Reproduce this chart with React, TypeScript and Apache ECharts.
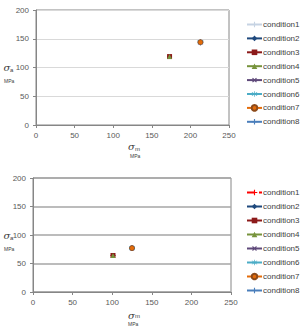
import React, { useEffect, useRef } from "react";
import * as echarts from "echarts";

const conditions = ["condition1", "condition2", "condition3", "condition4", "condition5", "condition6", "condition7", "condition8"];
const topX = [173, 173, 173, 173, 213, 213, 213, 213];
const topY = [119, 119, 119, 119, 144, 144, 144, 144];
const bottomX = [101, 101, 101, 101, 125, 125, 125, 125];
const bottomY = [64, 64, 64, 64, 77, 77, 77, 77];
const xTicks = [0, 50, 100, 150, 200, 250];
const yTicks = [0, 50, 100, 150, 200];

const PLUS = "path://M4,0H6V4H10V6H6V10H4V6H0V4H4Z";
const ASTER = "path://M4.4,0H5.6V10H4.4Z M0.4,2.5L1.0,1.5L9.6,7.5L9.0,8.5Z M9.6,2.5L9.0,1.5L0.4,7.5L1.0,8.5Z";
const symbols = [PLUS, "diamond", "rect", "triangle", PLUS, ASTER, "circle", PLUS];
const rotations = [0, 0, 0, 0, 45, 0, 0, 0];
const sizes = [5, 5, 5, 5, 6, 6, 5, 6];
const zs = [2, 2, 6, 7, 2, 2, 8, 2];
const baseColors = ["#c6d3e3", "#1f497d", "#8c1a1a", "#77933c", "#5f497a", "#4bacc6", "#e46c0a", "#4a7ebb"];

function buildOption(which: "top" | "bottom") {
  const isTop = which === "top";
  const xs = isTop ? topX : bottomX;
  const ys = isTop ? topY : bottomY;
  const colors = baseColors.slice();
  if (!isTop) colors[0] = "#ff0000";
  const grid = isTop
    ? { left: 36, right: 73, top: 10, height: 115 }
    : { left: 33, right: 71, top: 15, height: 114 };
  const series = conditions.map((name, i) => ({
    name,
    type: "line",
    data: [[xs[i], ys[i]]],
    symbol: symbols[i],
    symbolSize: sizes[i],
    symbolRotate: rotations[i],
    showSymbol: true,
    z: zs[i],
    itemStyle: { color: colors[i], borderColor: i === 6 ? "#8c4a1a" : colors[i], borderWidth: i === 6 ? 0.8 : 0 },
    lineStyle: {
      color: colors[i],
      width: !isTop && i === 0 ? 2 : 1.5,
      type: !isTop && i === 0 ? "dashed" : "solid",
    },
  }));
  const axisLabel = { color: "#595959", fontSize: 8, fontFamily: "Liberation Sans, Arial, sans-serif" };
  const axisLine = { show: true, lineStyle: { color: "#868686", width: 1 } };
  const splitColor = isTop ? "#d9d9d9" : "#a6a6a6";
  const graphic = [
    { type: "text", left: 128, top: isTop ? 141 : 310 - 163, style: { text: "σ", font: "italic 10px 'DejaVu Serif', serif", fill: "#404040" } },
    { type: "text", left: 135, top: isTop ? 146 : 313 - 163, style: { text: "m", font: "6px 'Liberation Sans', sans-serif", fill: "#404040" } },
    { type: "text", left: isTop ? 130 : 128, top: isTop ? 153 : 321 - 163, style: { text: "MPa", font: "5px 'Liberation Sans', sans-serif", fill: "#404040" } },
    { type: "text", left: 3.5, top: isTop ? 62 : 230 - 163, style: { text: "σ", font: "italic 10px 'DejaVu Serif', serif", fill: "#404040" } },
    { type: "text", left: 10, top: isTop ? 67 : 235 - 163, style: { text: "a", font: "6px 'Liberation Sans', sans-serif", fill: "#404040" } },
    { type: "text", left: 4, top: isTop ? 78 : 246 - 163, style: { text: "MPa", font: "5px 'Liberation Sans', sans-serif", fill: "#404040" } },
  ];
  return {
    animation: false,
    backgroundColor: "#ffffff",
    grid: { ...grid, show: true, borderColor: "#868686", borderWidth: 1, containLabel: false },
    xAxis: {
      type: "value",
      min: xTicks[0],
      max: xTicks[xTicks.length - 1],
      interval: 50,
      axisLine,
      axisTick: { show: true, length: 3, lineStyle: { color: "#868686" } },
      axisLabel: { ...axisLabel, margin: 6 },
      splitLine: { show: false },
    },
    yAxis: {
      type: "value",
      min: yTicks[0],
      max: yTicks[yTicks.length - 1],
      interval: 50,
      axisLine,
      axisTick: { show: true, length: 3, lineStyle: { color: "#868686" } },
      axisLabel: { ...axisLabel, margin: 7 },
      splitLine: { show: true, lineStyle: { color: splitColor, width: isTop ? 1 : 1.5 } },
    },
    legend: {
      orient: "vertical",
      left: 246,
      top: isTop ? 20.5 : 25.5,
      itemWidth: 15,
      itemHeight: 7,
      itemGap: isTop ? 5.9 : 6,
      padding: 0,
      textStyle: { color: "#404040", fontSize: 8, fontFamily: "Liberation Sans, Arial, sans-serif", padding: [0, 0, 0, -4] },
      data: conditions,
    },
    graphic,
    series,
  };
}

function Chart({ which }: { which: "top" | "bottom" }) {
  const ref = useRef<HTMLDivElement>(null);
  useEffect(() => {
    if (!ref.current) return;
    const chart = echarts.init(ref.current, undefined, { renderer: "svg" });
    chart.setOption(buildOption(which) as any);
    return () => chart.dispose();
  }, [which]);
  return <div ref={ref} style={{ width: 302, height: 163 }} />;
}

export default function App() {
  return (
    <div style={{ position: "absolute", left: 0, top: 0, width: 302, height: 326, background: "#fff" }}>
      <Chart which="top" />
      <Chart which="bottom" />
    </div>
  );
}
